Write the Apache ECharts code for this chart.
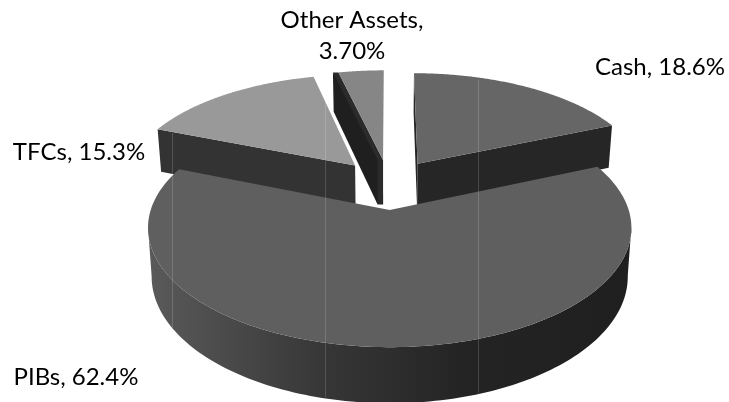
<!DOCTYPE html>
<html><head><meta charset="utf-8">
<style>html,body{margin:0;padding:0;background:#fff}#c{width:729px;height:402px}</style>
<script src="https://cdn.jsdelivr.net/npm/echarts@6/dist/echarts.min.js"></script>
</head><body><div id="c"></div>
<script>
// data
const categories = ['Cash', 'PIBs', 'TFCs', 'Other Assets'];
const shares = [18.6, 62.4, 15.3, 3.7];
const shareLabels = ['18.6%', '62.4%', '15.3%', '3.70%'];

// 3D-pie projection (homography of the pie plane onto the screen)
const view = {cx: 389, cy: 184, A: 231, B: 109, k: 0.145, explode: 0.23, depth: 46, floorScale: 0.985};
const topColors = ['#666666', '#5f5f5f', '#999999', '#868686'];
const wallColors = ['#262626', '#303030', '#333333', '#1f1f1f'];
const labelSpots = [[660, 67], [76, 377], [79, 152], [352, 36]];

const total = shares.reduce((a, b) => a + b, 0);
const rad = d => d * Math.PI / 180;
const proj = (U, V) => {
  const w = 1 + view.k * V;
  return [view.cx + view.A * U / w, view.cy - view.B * V / w];
};
const floor = (U, V) => {
  const w = 1 + view.k * V, p = proj(U, V);
  return [view.cx + (p[0] - view.cx) * view.floorScale, p[1] + view.depth / w];
};

function renderItem(params, api) {
  const i = params.dataIndex;
  let before = 0;
  for (let j = 0; j < i; j++) before += shares[j];
  const a0 = before / total * 360, a1 = (before + api.value(0)) / total * 360, mid = (a0 + a1) / 2;
  const ou = view.explode * Math.sin(rad(mid)), ov = view.explode * Math.cos(rad(mid));
  const rim = (f) => {
    const pts = [];
    for (let n = 0; n <= 180; n++) {
      const t = rad(a0 + (a1 - a0) * n / 180);
      pts.push(f(ou + Math.sin(t), ov + Math.cos(t)));
    }
    return pts;
  };
  const z2 = i === 1 ? 10 : 1 + i;
  const poly = (points, fill) => ({type: 'polygon', z2, shape: {points}, style: {fill, stroke: null}});
  const topRim = rim(proj), floorRim = rim(floor);
  const last = topRim.length - 1;
  const apex = proj(ou, ov), apexF = floor(ou, ov);
  const kids = [];
  if (i === 1) {
    let nR = 0, nL = 0;
    topRim.forEach((p, n) => {
      if (p[0] > topRim[nR][0]) nR = n;
      if (p[0] < topRim[nL][0]) nL = n;
    });
    const hull = topRim.slice(nR, nL + 1).concat(floorRim.slice(nR, nL + 1).reverse());
    kids.push(poly(hull, new echarts.graphic.LinearGradient(0, 0, 1, 0, [
      {offset: 0, color: '#5a5a5a'}, {offset: 0.37, color: '#363636'},
      {offset: 0.65, color: '#242424'}, {offset: 1, color: '#1f1f1f'}])));
  } else if (i === 0) {
    kids.push(poly([apex, topRim[0], floorRim[0], apexF], wallColors[0]));
    kids.push(poly([apex, topRim[last], floorRim[last], apexF], wallColors[0]));
  } else if (i === 2) {
    kids.push(poly([apex, topRim[0], floorRim[0], apexF], wallColors[2]));
  } else {
    const s = 5.5, o = topRim[0], oF = floorRim[0];
    kids.push(poly([o, apex, apexF, [apexF[0] - s, apexF[1]], [o[0] - s, o[1]]], '#2b2b2b'));
    kids.push(poly([[o[0] - s, o[1]], [apex[0] - s, apex[1]], [apexF[0] - s, apexF[1]], [oF[0] - s, oF[1]]], wallColors[3]));
  }
  kids.push(poly([apex].concat(topRim), topColors[i]));
  const lp = labelSpots[i];
  const txt = i === 3 ? categories[i] + ',\n' + shareLabels[i] : categories[i] + ', ' + shareLabels[i];
  kids.push({type: 'text', z2: 20, x: lp[0], y: lp[1], style: {
    text: txt, fill: '#000', font: '24px Lato', align: 'center', verticalAlign: 'middle', lineHeight: 31}});
  return {type: 'group', children: kids};
}

const chart = echarts.init(document.getElementById('c'), null, {renderer: 'canvas'});
const seam = (x, y1, y2) => ({type: 'line', z: 50, silent: true,
  shape: {x1: x + 0.5, y1, x2: x + 0.5, y2}, style: {stroke: 'rgba(255,255,255,0.16)', lineWidth: 1}});
chart.setOption({
  animation: false,
  backgroundColor: '#fff',
  series: [{type: 'custom', coordinateSystem: 'none', renderItem, data: shares.map((v, i) => ({name: categories[i], value: [v]}))}],
  graphic: [seam(172, 133, 328), seam(325, 85, 397), seam(478, 80, 393)]
});
</script></body></html>
